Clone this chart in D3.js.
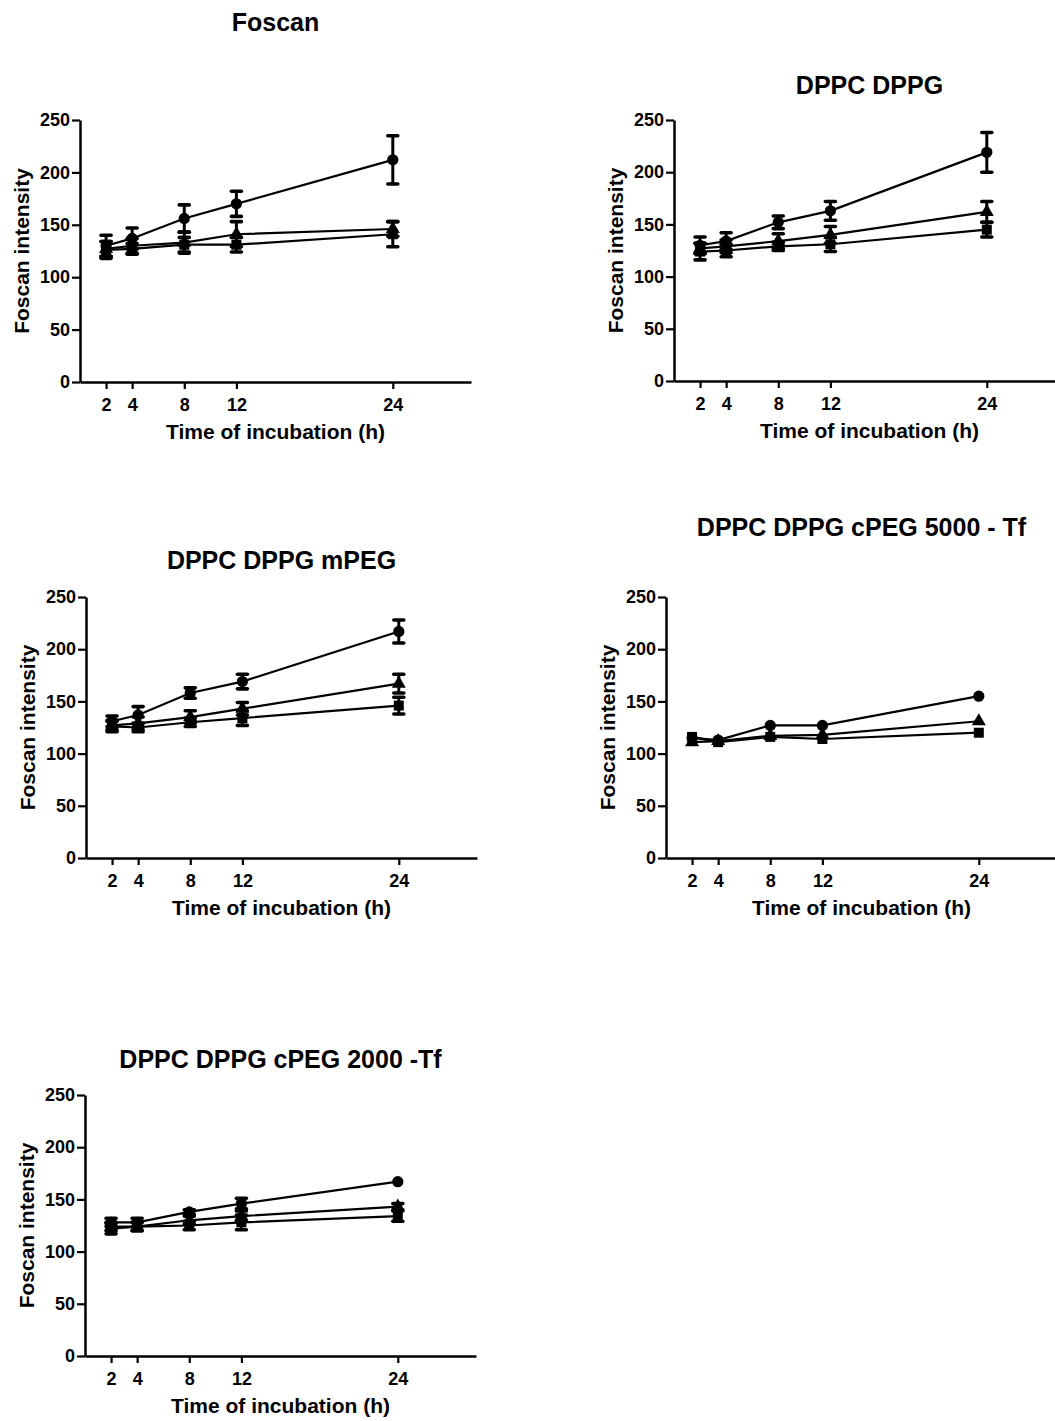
<!DOCTYPE html>
<html>
<head>
<meta charset="utf-8">
<script src="https://cdn.jsdelivr.net/npm/d3@7"></script>
<style>
  html, body { margin: 0; padding: 0; background: #fff; }
  svg { display: block; }
  text { font-family: "Liberation Sans", Arial, Helvetica, sans-serif; font-weight: bold; fill: #000; }
</style>
</head>
<body>
<svg id="chart" width="1055" height="1421"></svg>
<script>
// ---------------- DATA ----------------
const panelTitles = ["Foscan", "DPPC DPPG", "DPPC DPPG mPEG", "DPPC DPPG cPEG 5000 - Tf", "DPPC DPPG cPEG 2000 -Tf"];
const times = [2, 4, 8, 12, 24];
const xTickValues = [2, 4, 8, 12, 24];
const yTickValues = [0, 50, 100, 150, 200, 250];
const xAxisTitle = "Time of incubation (h)";
const yAxisTitle = "Foscan intensity";

// one row per panel, one value per time point
const circleMean = [
  [130, 137, 156, 170, 212],
  [130, 134, 152, 163, 219],
  [131, 137, 158, 169, 217],
  [115, 113, 127, 127, 155],
  [128, 128, 138, 146, 167]
];
const circleSD = [
  [10, 10, 13, 12, 23],
  [8, 8, 6, 9, 19],
  [5, 8, 5, 7, 11],
  [0, 0, 0, 0, 0],
  [4, 4, 2, 5, 0]
];
const triangleMean = [
  [127, 130, 133, 141, 146],
  [127, 129, 134, 140, 162],
  [127, 129, 135, 143, 167],
  [111, 112, 117, 118, 131],
  [124, 124, 130, 134, 143]
];
const triangleSD = [
  [7, 7, 10, 12, 7],
  [5, 6, 7, 8, 10],
  [5, 6, 6, 6, 9],
  [0, 0, 0, 0, 0],
  [4, 4, 4, 5, 3]
];
const squareMean = [
  [126, 127, 131, 131, 141],
  [124, 125, 129, 131, 145],
  [126, 125, 130, 134, 146],
  [116, 111, 116, 114, 120],
  [122, 124, 125, 128, 134]
];
const squareSD = [
  [8, 5, 7, 7, 12],
  [8, 6, 4, 7, 7],
  [5, 4, 4, 7, 8],
  [0, 0, 0, 0, 0],
  [5, 4, 4, 7, 5]
];

// ---------------- LAYOUT ----------------
const xDomain = [0, 30];
const yDomain = [0, 250];
const panelLayout = [
  { x0: 80,  y0: 382,  yTop: 120,  titleY: 31 },
  { x0: 674, y0: 381,  yTop: 120,  titleY: 94 },
  { x0: 86,  y0: 858,  yTop: 597,  titleY: 569 },
  { x0: 666, y0: 858,  yTop: 597,  titleY: 536 },
  { x0: 85,  y0: 1356, yTop: 1095, titleY: 1068 }
];
const xWidth = 391;

const svg = d3.select("#chart");

panelLayout.forEach((L, i) => {
  const g = svg.append("g");
  const x = d3.scaleLinear().domain(xDomain).range([L.x0, L.x0 + xWidth]);
  const y = d3.scaleLinear().domain(yDomain).range([L.y0, L.yTop]);

  // axes
  const yAxis = d3.axisLeft(y).tickValues(yTickValues).tickSize(8).tickSizeOuter(0).tickPadding(2);
  const xAxis = d3.axisBottom(x).tickValues(xTickValues).tickSize(7).tickSizeOuter(0).tickPadding(9);

  const gy = g.append("g").attr("transform", `translate(${L.x0},0)`).call(yAxis);
  const gx = g.append("g").attr("transform", `translate(0,${L.y0})`).call(xAxis);
  [gx, gy].forEach(a => {
    a.select(".domain").attr("stroke", "#000").attr("stroke-width", 2.5);
    a.selectAll(".tick line").attr("stroke", "#000").attr("stroke-width", 2.2);
    a.selectAll(".tick text")
      .style("font-family", '"Liberation Sans", Arial, sans-serif')
      .style("font-weight", "bold")
      .style("font-size", "18px")
      .attr("fill", "#000");
  });

  // titles
  g.append("text")
    .attr("x", (x.range()[0] + x.range()[1]) / 2)
    .attr("y", L.titleY)
    .attr("text-anchor", "middle")
    .style("font-size", "25px")
    .text(panelTitles[i]);

  g.append("text")
    .attr("x", (x.range()[0] + x.range()[1]) / 2)
    .attr("y", L.y0 + 57)
    .attr("text-anchor", "middle")
    .style("font-size", "21px")
    .text(xAxisTitle);

  const yc = (L.y0 + L.yTop) / 2;
  g.append("text")
    .attr("transform", `translate(${L.x0 - 51},${yc}) rotate(-90)`)
    .attr("text-anchor", "middle")
    .style("font-size", "21px")
    .text(yAxisTitle);

  const series = [
    { mean: circleMean[i], sd: circleSD[i], sym: d3.symbolCircle, size: 100 },
    { mean: triangleMean[i], sd: triangleSD[i], sym: d3.symbolTriangle, size: 85 },
    { mean: squareMean[i], sd: squareSD[i], sym: d3.symbolSquare, size: 100 }
  ];

  const line = d3.line().x((d, k) => x(times[k])).y(d => y(d));

  // lines
  series.forEach(s => {
    g.append("path").datum(s.mean)
      .attr("d", line)
      .attr("fill", "none")
      .attr("stroke", "#000")
      .attr("stroke-width", 2.2);
  });

  // error bars
  series.forEach(s => {
    const eb = g.append("g").attr("stroke", "#000");
    s.mean.forEach((m, k) => {
      const e = s.sd[k];
      if (!e) return;
      const cx = x(times[k]);
      eb.append("line").attr("x1", cx).attr("x2", cx).attr("y1", y(m - e)).attr("y2", y(m + e)).attr("stroke-width", 3);
      [m - e, m + e].forEach(v => {
        eb.append("line").attr("x1", cx - 5).attr("x2", cx + 5).attr("y1", y(v)).attr("y2", y(v))
          .attr("stroke-width", 3.6).attr("stroke-linecap", "round");
      });
    });
  });

  // markers
  series.forEach(s => {
    g.append("g").selectAll("path").data(s.mean).join("path")
      .attr("d", d3.symbol().type(s.sym).size(s.size))
      .attr("transform", (d, k) => `translate(${x(times[k])},${y(d)})`)
      .attr("fill", "#000");
  });
});
</script>
</body>
</html>
